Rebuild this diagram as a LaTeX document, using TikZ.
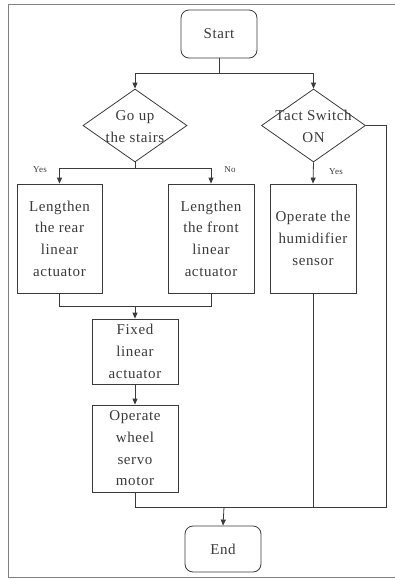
\documentclass[tikz,border=0pt]{standalone}
\usepackage{fontspec}
\setmainfont{Liberation Serif}[LetterSpace=4]
\usepackage{tikz}
\usetikzlibrary{shapes.geometric,arrows.meta}
\definecolor{ink}{HTML}{3A3A3A}
\newcommand{\dtext}[1]{\makebox[0pt]{\raisebox{-5pt}[0pt][0pt]{\begin{tabular}{@{}c@{}}#1\end{tabular}}}}

\begin{document}
\begin{tikzpicture}[x=1pt,y=-1pt,
    every node/.style={text=ink,font=\fontsize{15}{21.7}\selectfont},
    stepbox/.style={draw=ink,line width=0.8pt,align=center,inner sep=0pt,minimum width=86pt},
    term/.style={stepbox,rounded corners=8pt,minimum width=76pt},
    decision/.style={draw=ink,line width=0.8pt,diamond,aspect=1.42,inner sep=0pt,minimum width=104pt,minimum height=73pt},
    answer/.style={font=\fontsize{9}{10}\selectfont},
    line/.style={draw=ink,line width=0.8pt},
    arrow/.style={line,-{Triangle[width=5pt,length=6pt]}}]
  \useasboundingbox (0,0) rectangle (395,579);
  \draw[gray,line width=1pt] (400,4) -- (8,4) -- (8,577) -- (400,577);

  \node[term,minimum height=48pt] (start) at (219,34) {Start};
  \node[decision] (stairs) at (135,125.5) {\dtext{Go up\\the stairs}};
  \node[decision] (tact) at (313.5,125.5) {\dtext{Tact Switch\\ON}};
  \node[stepbox,minimum width=85pt,minimum height=109pt] (rear) at (59.5,238.5) {Lengthen\\the rear\\linear\\actuator};
  \node[stepbox,minimum height=109pt] (front) at (211,238.5) {Lengthen\\the front\\linear\\actuator};
  \node[stepbox,minimum height=109pt] (humid) at (313,238.5) {Operate the\\humidifier\\sensor};
  \node[stepbox,minimum height=65pt] (fixed) at (135,351.5) {Fixed\\linear\\actuator};
  \node[stepbox,minimum height=87pt] (wheel) at (135,448.5) {Operate\\wheel\\servo\\motor};
  \node[term,minimum height=46pt] (end) at (223,549) {End};

  \node[answer] (yes1) at (40,170) {Yes};
  \node[answer] (no1) at (230,170) {No};
  \node[answer] (yes2) at (336,172) {Yes};

  \coordinate (split1) at (219,73);
  \coordinate (split2) at (135,168);
  \coordinate (join1) at (135,306);
  \coordinate (join2) at (224,507);
  \coordinate (side) at (386,507);

  \draw[line] (start.south) -- (split1);
  \draw[arrow] (split1) -| (stairs.north);
  \draw[arrow] (split1) -| (tact.north);
  \draw[line] (stairs.south) -- (split2);
  \draw[arrow] (split2) -| (rear.north);
  \draw[arrow] (split2) -| (front.north);
  \draw[arrow] (tact.south) -- (humid.north);
  \draw[line] (rear.south) |- (join1);
  \draw[line] (front.south) |- (join1);
  \draw[arrow] (join1) -- (fixed.north);
  \draw[arrow] (fixed.south) -- (wheel.north);
  \draw[line] (wheel.south) |- (join2);
  \draw[line] (tact.east) -| (side) -- (join2);
  \draw[line] (humid.south) -- (humid.south |- side);
  \draw[arrow] (join2) -- (end.north);
\end{tikzpicture}
\end{document}
